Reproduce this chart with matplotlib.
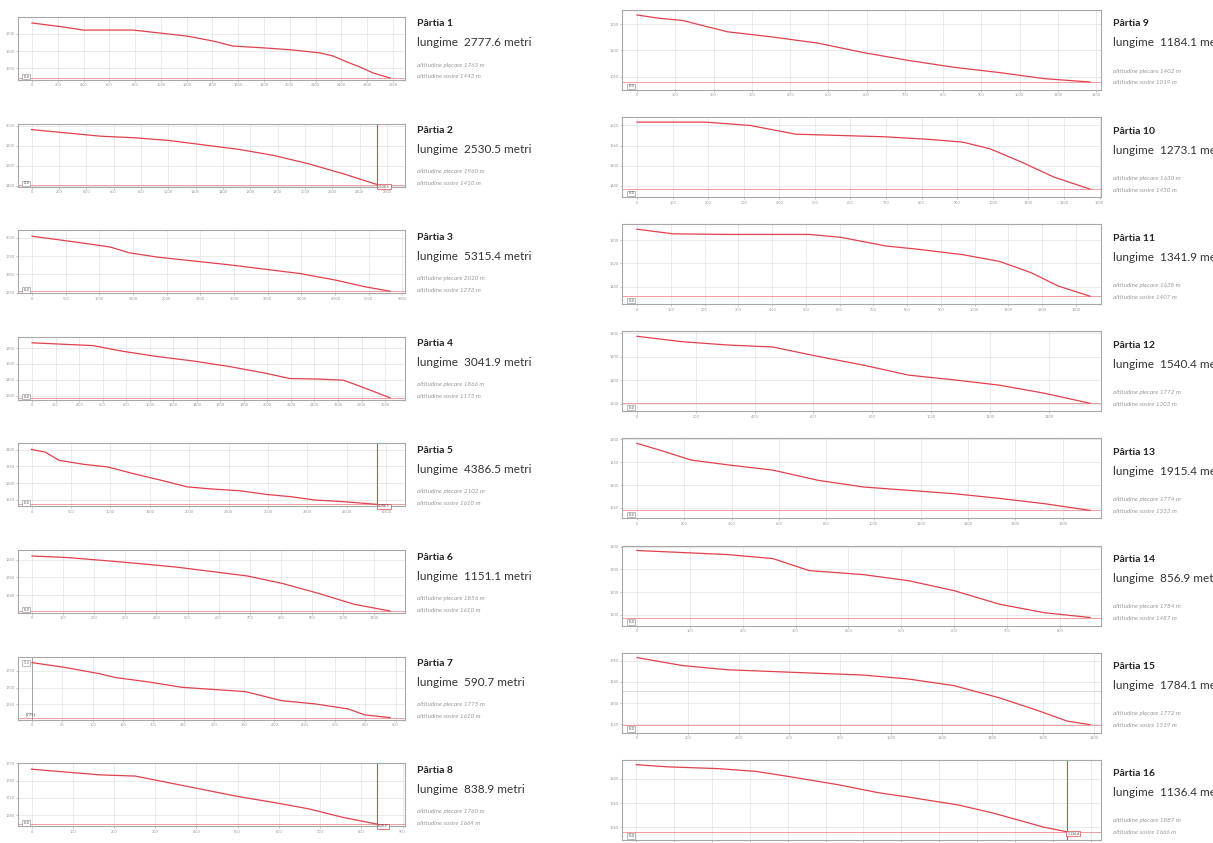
import matplotlib
matplotlib.use('Agg')
from matplotlib import pyplot as plt
from matplotlib.ticker import MultipleLocator, MaxNLocator
import numpy as np

plt.rcParams['font.family'] = ['Lato', 'DejaVu Sans']

W, H = 1213, 843

# run data: name, length (m), start / end altitude (m)
names = ['Pârtia %d' % i for i in range(1, 17)]
lengths = [2777.6, 2530.5, 5315.4, 3041.9, 4386.5, 1151.1, 590.7, 838.9,
           1184.1, 1273.1, 1341.9, 1540.4, 1915.4, 856.9, 1784.1, 1136.4]
alt_top = [1763, 1960, 2020, 1866, 2102, 1856, 1775, 1760,
           1402, 1630, 1638, 1772, 1774, 1784, 1772, 1887]
alt_bot = [1443, 1410, 1273, 1173, 1610, 1610, 1610, 1664,
           1019, 1430, 1407, 1203, 1333, 1487, 1519, 1666]

# elevation profiles: distance in % of the run, altitude in m
p1_x = [0, 8.7, 14.2, 28.2, 43.3, 50.6, 56.1, 65.6, 72.9, 80.4, 84.1, 88.0, 91.6, 95.3, 100]
p1_h = [1763, 1740, 1722, 1722, 1687, 1658, 1629, 1617, 1606, 1589, 1571, 1536, 1507, 1472, 1443]
p2_x = [0, 10, 20, 30, 40, 50, 60, 70, 80, 90, 100]
p2_h = [1960, 1927, 1894, 1878, 1850, 1806, 1762, 1702, 1619, 1520, 1410]
p3_x = [0, 8, 16, 22, 27, 35, 45, 55, 65, 75, 85, 93, 100]
p3_h = [2020, 1968, 1915, 1871, 1796, 1736, 1684, 1632, 1572, 1512, 1422, 1333, 1273]
p4_x = [0, 10, 17, 25, 35, 45, 55, 65, 72, 80, 87, 92, 100]
p4_h = [1866, 1845, 1831, 1762, 1693, 1637, 1568, 1485, 1416, 1409, 1395, 1312, 1173]
p5_x = [0, 4, 8, 15, 22, 30, 38, 45, 52, 60, 68, 75, 82, 90, 100]
p5_h = [2102, 2077, 2004, 1969, 1945, 1881, 1822, 1767, 1748, 1733, 1699, 1679, 1649, 1635, 1610]
p6_x = [0, 10, 20, 30, 40, 50, 60, 70, 80, 90, 100]
p6_h = [1856, 1849, 1836, 1822, 1807, 1787, 1767, 1733, 1689, 1640, 1610]
p7_x = [0, 9.5, 18.7, 23.4, 32.6, 41.8, 51.2, 59.6, 65.2, 69.6, 79.1, 88.3, 93.0, 100]
p7_h = [1775, 1760, 1742, 1730, 1717, 1701, 1694, 1688, 1673, 1661, 1651, 1636, 1618, 1610]
p8_x = [0, 10, 20, 30, 40, 50, 60, 70, 80, 90, 100]
p8_h = [1760, 1755, 1750, 1748, 1736, 1724, 1712, 1702, 1691, 1676, 1664]
p9_x = [0, 5, 10, 20, 30, 40, 50, 60, 70, 80, 90, 100]
p9_h = [1402, 1383, 1371, 1306, 1276, 1241, 1187, 1142, 1103, 1073, 1038, 1019]
p10_x = [0, 15, 25, 35, 45, 55, 65, 72, 78, 85, 92, 100]
p10_h = [1630, 1630, 1620, 1594, 1590, 1586, 1578, 1570, 1550, 1510, 1466, 1430]
p11_x = [0, 8, 20, 38, 45, 55, 62, 72, 80, 87, 93, 100]
p11_h = [1638, 1622, 1620, 1620, 1610, 1580, 1569, 1550, 1527, 1488, 1442, 1407]
p12_x = [0, 10, 20, 30, 40, 50, 60, 70, 80, 90, 100]
p12_h = [1772, 1726, 1698, 1681, 1601, 1527, 1442, 1402, 1357, 1288, 1203]
p13_x = [0, 5, 12, 20, 30, 40, 50, 60, 70, 80, 90, 100]
p13_h = [1774, 1730, 1664, 1633, 1598, 1531, 1487, 1465, 1443, 1412, 1377, 1333]
p14_x = [0, 10, 20, 30, 38, 50, 60, 70, 80, 90, 100]
p14_h = [1784, 1775, 1766, 1748, 1695, 1677, 1650, 1606, 1546, 1508, 1487]
p15_x = [0, 10, 20, 35, 50, 60, 70, 80, 88, 95, 100]
p15_h = [1772, 1742, 1726, 1716, 1706, 1691, 1666, 1620, 1575, 1532, 1519]
p16_x = [0, 7.2, 19.1, 27.8, 35.9, 46.9, 56.5, 62.9, 74.9, 82.8, 94.7, 100]
p16_h = [1887, 1880, 1874, 1865, 1847, 1821, 1794, 1781, 1754, 1728, 1681, 1666]

prof_x = [p1_x, p2_x, p3_x, p4_x, p5_x, p6_x, p7_x, p8_x,
          p9_x, p10_x, p11_x, p12_x, p13_x, p14_x, p15_x, p16_x]
prof_h = [p1_h, p2_h, p3_h, p4_h, p5_h, p6_h, p7_h, p8_h,
          p9_h, p10_h, p11_h, p12_h, p13_h, p14_h, p15_h, p16_h]

x_step = [200, 200, 500, 200, 500, 100, 50, 100,
          100, 100, 100, 200, 200, 100, 200, 100]
cursor = [2, 5, 8, 16]   # runs with a red marker line at the end

RED = '#e2404c'
GRID = '#e3e3e3'
SPINE = '#a8a8a8'

fig = plt.figure(figsize=(W / 100, H / 100), dpi=100)


def px_axes(x0, y0, x1, y1):
    return fig.add_axes([x0 / W, 1 - y1 / H, (x1 - x0) / W, (y1 - y0) / H])


for i in range(16):
    n = i + 1
    L = lengths[i]
    d = np.array(prof_x[i]) / 100.0 * L
    h = np.array(prof_h[i])
    drop = alt_top[i] - alt_bot[i]
    if i < 8:
        top = 17 + i * 106.6
        ax = px_axes(18, top, 405, top + 63)
        pad_t, pad_b, span = 6, 2, 55
        tx, ty = 417, top + 7
        lx0, lx1 = 14.0 / 358, 15.0 / 358
    else:
        top = 10 + (i - 8) * 107.1
        ax = px_axes(622, top, 1101, top + 80)
        pad_t, pad_b, span = 5, 8, 67
        tx, ty = 1113, top + 14
        lx0, lx1 = 15.0 / 453, 11.0 / 453
    long_txt = 'lungime  %.1f metri' % L

    x_right = L * (1 + lx1)
    if n in cursor:
        x_right = L * 1.08
    ax.set_xlim(-L * lx0, x_right)
    ax.set_ylim(alt_bot[i] - drop * pad_b / span, alt_top[i] + drop * pad_t / span)

    ax.plot(d, h, color=RED, lw=0.9, zorder=3)
    ax.axhline(alt_bot[i], color=RED, lw=0.6, alpha=0.6, zorder=2)
    if n in cursor:
        ax.axvline(L, color=RED, lw=0.8, zorder=2)
        ax.text(L, alt_bot[i], ' %.1f ' % L, fontsize=2.5, color='#444444',
                va='top', ha='left',
                bbox=dict(boxstyle='square,pad=0.2', fc='white', ec=RED, lw=0.5))
    if n == 15:
        ax.axhline((alt_top[i] + alt_bot[i]) / 2, color='#c8c8c8', lw=0.5)
    if n == 7:
        ax.axvline(0, color='#888888', lw=0.5)
        ax.text(0.012, 0.93, ' 1.1 ', transform=ax.transAxes, fontsize=2.5,
                color='#444444', va='top',
                bbox=dict(boxstyle='square,pad=0.2', fc='white', ec='#888888', lw=0.4))
        ax.text(0.02, 0.06, '[775]', transform=ax.transAxes, fontsize=3,
                color='#444444')
    else:
        # small scale box in the lower left corner
        ax.text(0.012, 0.02, ' 0.0 ', transform=ax.transAxes, fontsize=2.5,
                color='#444444', va='bottom',
                bbox=dict(boxstyle='square,pad=0.2', fc='white', ec='#888888', lw=0.4))

    ax.xaxis.set_major_locator(MultipleLocator(x_step[i]))
    ax.yaxis.set_major_locator(MaxNLocator(4))
    ax.grid(True, color=GRID, lw=0.5)
    ax.set_axisbelow(True)
    ax.tick_params(labelsize=2.8, colors='#999999', length=1.5, width=0.4, pad=1)
    for s in ax.spines.values():
        s.set_color(SPINE)
        s.set_linewidth(0.8)

    # side text
    fig.text(tx / W, 1 - ty / H, names[i], fontsize=7.5, fontweight='bold',
             color='#222222', va='center')
    fig.text(tx / W, 1 - (ty + 19) / H, long_txt, fontsize=8.5,
             color='#333333', va='center')
    gap = 27 if i < 8 else 33
    fig.text(tx / W, 1 - (ty + gap + 14) / H,
             'altitudine plecare %d m' % alt_top[i], fontsize=4.5,
             style='italic', color='#9a9a9a', va='center')
    fig.text(tx / W, 1 - (ty + gap + 26) / H,
             'altitudine sosire %d m' % alt_bot[i], fontsize=4.5,
             style='italic', color='#9a9a9a', va='center')

plt.savefig('out.png', dpi=100)
